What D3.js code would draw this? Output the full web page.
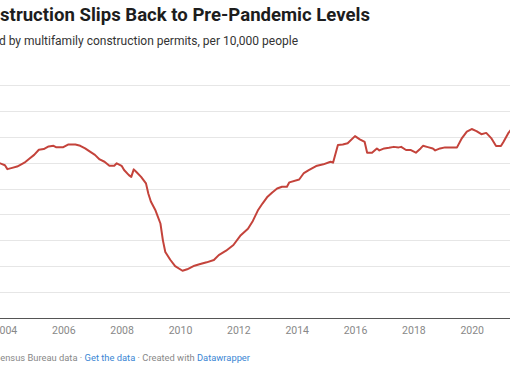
<!DOCTYPE html>
<html><head><meta charset="utf-8">
<script src="https://cdn.jsdelivr.net/npm/d3@7"></script>
<style>
html,body{margin:0;padding:0;background:#fff;overflow:hidden;}
svg{display:block;font-family:Roboto,"Noto Sans",sans-serif;}
</style></head>
<body>
<svg id="c" width="510" height="382"></svg>
<script>
const title = "Construction Slips Back to Pre-Pandemic Levels";
const subtitle = "Measured by multifamily construction permits, per 10,000 people";
const footerParts = [
  {t:"Source: U.S. Census Bureau data", link:false},
  {t:" · ", link:false},
  {t:"Get the data", link:true},
  {t:" · Created with ", link:false},
  {t:"Datawrapper", link:true}
];
const yTicks = [2,4,6,8,10,12,14,16,18];
const xTickYears = [2004,2006,2008,2010,2012,2014,2016,2018,2020];

const dates = ["2003-11","2004-01","2004-02","2004-04","2004-06","2004-07","2004-09","2004-11",
"2005-01","2005-03","2005-05","2005-07","2005-09","2005-10","2006-01","2006-03","2006-06","2006-08",
"2006-10","2006-12","2007-02","2007-04","2007-06","2007-08","2007-10","2007-11","2008-01","2008-02",
"2008-04","2008-05","2008-06","2008-07","2008-09","2008-11","2008-12","2009-01","2009-03","2009-05",
"2009-06","2009-07","2009-09","2009-11","2010-02","2010-04","2010-07","2010-09","2010-12","2011-03",
"2011-05","2011-08","2011-11","2012-02","2012-05","2012-07","2012-09","2012-11","2013-01","2013-03",
"2013-05","2013-07","2013-09","2013-10","2014-02","2014-04","2014-06","2014-09","2014-12","2015-03",
"2015-04","2015-06","2015-08","2015-10","2016-01","2016-03","2016-05","2016-06","2016-08","2016-10",
"2016-11","2017-01","2017-03","2017-05","2017-07","2017-08","2017-10","2017-12","2018-02","2018-04",
"2018-05","2018-07","2018-09","2018-10","2018-12","2019-02","2019-07","2019-09","2019-11","2020-01",
"2020-03","2020-05","2020-07","2020-09","2020-11","2021-01","2021-02","2021-04","2021-05","2021-06"];
const values = [11.95,11.8,11.5,11.6,11.7,11.8,12.0,12.3,
12.6,13.0,13.05,13.25,13.3,13.2,13.2,13.4,13.4,13.3,
13.1,12.85,12.6,12.25,12.07,11.76,11.76,11.95,11.76,11.43,
11.04,10.9,11.48,11.3,10.9,10.4,9.6,9.0,8.3,7.3,
6.0,5.1,4.5,4.0,3.65,3.76,4.04,4.15,4.3,4.48,
4.86,5.2,5.64,6.4,6.9,7.5,8.3,8.86,9.37,9.7,
10.0,10.14,10.14,10.48,10.7,11.2,11.43,11.74,11.87,12.07,
12.0,13.36,13.4,13.5,14.05,13.8,13.6,12.77,12.77,13.1,
12.95,13.1,13.15,13.22,13.18,13.22,12.98,12.97,12.77,13.1,
13.3,13.2,13.1,12.95,13.1,13.18,13.18,13.9,14.4,14.6,
14.44,14.2,14.3,13.9,13.28,13.28,13.6,14.26,14.5,14.7];

const parse = d3.timeParse("%Y-%m");
const data = dates.map((d,i)=>({date:parse(d), value:values[i]}));

const svg = d3.select("#c");
const W = 510;
const yBase = 318, yTop = 85;
const x = d3.scaleTime()
  .domain([new Date(2010,0,1), new Date(2020,0,1)])
  .range([180, 471.7]);
const y = d3.scaleLinear().domain([0,18]).range([yBase, yTop]);

// gridlines
svg.append("g").selectAll("line").data(yTicks).join("line")
  .attr("x1",0).attr("x2",W)
  .attr("y1",d=>Math.round(y(d))+0.5).attr("y2",d=>Math.round(y(d))+0.5)
  .attr("stroke","#e6e6e6").attr("stroke-width",1);

// x axis
const xAxis = d3.axisBottom(x)
  .tickValues(xTickYears.map(yr=>new Date(yr,0,1)))
  .tickFormat(d3.timeFormat("%Y"))
  .tickSize(0).tickPadding(9);
const gx = svg.append("g").attr("transform",`translate(0,${yBase})`).call(xAxis);
gx.select(".domain").remove();
gx.selectAll("text").attr("fill","#888").attr("font-size","10.5px")
  .attr("font-family","Roboto, sans-serif");
svg.append("line").attr("x1",0).attr("x2",W)
  .attr("y1",yBase+0.5).attr("y2",yBase+0.5)
  .attr("stroke","#555").attr("stroke-width",1);

// line
const line = d3.line().x(d=>x(d.date)).y(d=>y(d.value)).curve(d3.curveLinear);
svg.append("path").datum(data).attr("d",line)
  .attr("fill","none").attr("stroke","#c4433b").attr("stroke-width",2)
  .attr("stroke-linejoin","round").attr("stroke-linecap","round");

// helper: size a text so that its visible tail (from `visibleFrom`) spans [left,right]
function fitText(sel, full, visibleFrom, left, right, weight){
  const probe = svg.append("text").attr("font-size","100px").attr("font-weight",weight).text(full.slice(visibleFrom));
  const wTail = probe.node().getComputedTextLength();
  probe.remove();
  const fs = 100 * (right-left) / wTail;
  sel.attr("font-size", fs.toFixed(2)+"px").attr("x", right).attr("text-anchor","end");
  return fs;
}

const tEl = svg.append("text").attr("y",21).attr("font-weight","700").attr("fill","#1d1d1d").text(title);
fitText(tEl, title, title.indexOf("struction"), 0, 370, 700);

const sEl = svg.append("text").attr("y",45).attr("fill","#333").text(subtitle);
fitText(sEl, subtitle, subtitle.indexOf("d by"), -1, 298, 400);

// footer
const ft = svg.append("text").attr("y",361);
footerParts.forEach(p=>{
  ft.append("tspan").attr("fill", p.link ? "#3a86d4" : "#888").text(p.t);
});
const footFull = footerParts.map(p=>p.t).join("");
fitText(ft, footFull, footFull.indexOf("ensus"), 0, 250, 400);
</script>
</body></html>
